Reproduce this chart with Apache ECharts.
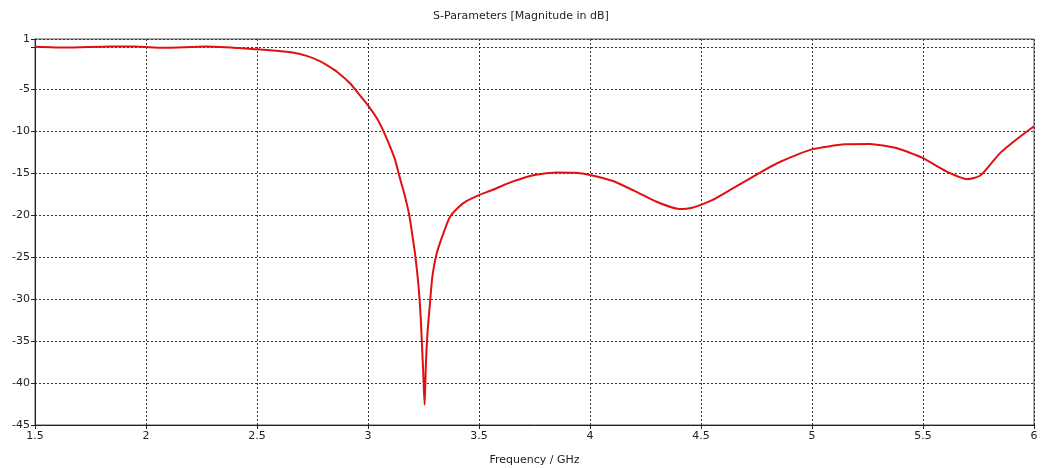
<!DOCTYPE html>
<html>
<head>
<meta charset="utf-8">
<script src="https://cdn.jsdelivr.net/npm/echarts@6/dist/echarts.min.js"></script>
<style>
  html, body { margin: 0; padding: 0; background: #fff; }
  #chart { width: 1042px; height: 468px; }
</style>
</head>
<body>
<div id="chart"></div>
<script>
// frequency (GHz) and S11 magnitude (dB)
var freq = [1.5, 1.64, 1.84, 1.95, 2.08, 2.27, 2.42, 2.5, 2.6, 2.66,
  2.72, 2.78, 2.82, 2.86, 2.92, 2.96, 3.0, 3.04, 3.07, 3.1,
  3.122, 3.144, 3.167, 3.186, 3.201, 3.212, 3.227, 3.237, 3.245, 3.25,
  3.255, 3.261, 3.268, 3.279, 3.29, 3.309, 3.339, 3.369, 3.41, 3.445,
  3.5, 3.56, 3.65, 3.75, 3.85, 3.93, 4.0, 4.1, 4.2, 4.3,
  4.4, 4.46, 4.55, 4.63, 4.77, 4.86, 5.0, 5.15, 5.26, 5.38,
  5.5, 5.6, 5.7, 5.757, 5.802, 5.847, 5.922, 6.0];
var s11 = [0.08, -0.02, 0.1, 0.1, -0.05, 0.1, -0.08, -0.23, -0.43, -0.62,
  -0.98, -1.6, -2.2, -2.9, -4.3, -5.6, -6.9, -8.45, -10.0, -11.85,
  -13.4, -15.6, -17.8, -20.0, -22.6, -24.6, -28.3, -32.0, -36.5, -39.5,
  -42.6, -37.5, -34.0, -30.5, -27.3, -24.6, -22.2, -20.2, -19.0, -18.3,
  -17.6, -17.0, -16.0, -15.2, -14.9, -14.95, -15.2, -15.9, -17.1, -18.4,
  -19.25, -19.1, -18.2, -17.0, -14.85, -13.6, -12.15, -11.55, -11.5, -12.0,
  -13.2, -14.7, -15.7, -15.3, -14.0, -12.6, -10.95, -9.4];

var points = freq.map(function (f, i) { return [f, s11[i]]; });

var font = 'DejaVu Sans';
var chart = echarts.init(document.getElementById('chart'));
chart.setOption({
  animation: false,
  title: {
    text: 'S-Parameters [Magnitude in dB]',
    left: 'center',
    top: 6,
    textStyle: { fontFamily: font, fontSize: 11, fontWeight: 'normal', color: '#222' }
  },
  grid: {
    left: 35, right: 8, top: 39, bottom: 43,
    outerBoundsMode: 'none',
    show: true, borderColor: '#555', borderWidth: 1
  },
  xAxis: {
    type: 'value',
    min: 1.5, max: 6, interval: 0.5,
    name: 'Frequency / GHz',
    nameLocation: 'middle',
    nameGap: 30,
    nameTextStyle: { fontFamily: font, fontSize: 11, color: '#222' },
    axisLine: { show: true, onZero: false, lineStyle: { color: '#222' } },
    axisTick: { show: true, length: 4, lineStyle: { color: '#222' } },
    axisLabel: { fontFamily: font, fontSize: 11, color: '#222', margin: 6 },
    splitLine: { show: true, lineStyle: { color: '#333', type: [2, 2], width: 1 } }
  },
  yAxis: {
    type: 'value',
    min: -45, max: 1, interval: 5,
    axisLine: { show: true, onZero: false, lineStyle: { color: '#222' } },
    axisTick: { show: true, length: 4, lineStyle: { color: '#222' } },
    axisLabel: {
      fontFamily: font, fontSize: 11, color: '#222', margin: 5,
      formatter: function (v) { return v === 0 ? '' : v; }
    },
    splitLine: { show: true, lineStyle: { color: '#333', type: [2, 2], width: 1 } }
  },
  series: [{
    type: 'line',
    data: points,
    showSymbol: false,
    smooth: 0.2,
    lineStyle: { color: '#e01010', width: 2 }
  }]
});
</script>
</body>
</html>
